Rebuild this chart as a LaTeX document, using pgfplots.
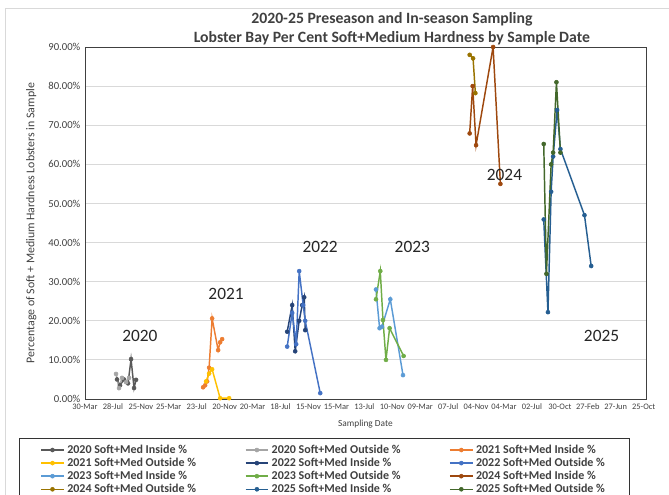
\documentclass[border=0pt]{standalone}
\usepackage{fontspec}
\setmainfont{Carlito}
\usepackage{pgfplots}
\pgfplotsset{compat=1.18}

\definecolor{c20i}{HTML}{595959}
\definecolor{c20o}{HTML}{A5A5A5}
\definecolor{c21i}{HTML}{ED7D31}
\definecolor{c21o}{HTML}{FFC000}
\definecolor{c22i}{HTML}{264478}
\definecolor{c22o}{HTML}{4472C4}
\definecolor{c23i}{HTML}{5B9BD5}
\definecolor{c23o}{HTML}{70AD47}
\definecolor{c24i}{HTML}{9E480E}
\definecolor{c24o}{HTML}{997300}
\definecolor{c25i}{HTML}{255E91}
\definecolor{c25o}{HTML}{43682B}
\definecolor{txt}{HTML}{404040}
\definecolor{gridc}{HTML}{D9D9D9}

\begin{document}
\begin{tikzpicture}
\begin{axis}[
    name=ax,
    scale only axis,
    width=420.75pt, height=264pt,
    xmin=0, xmax=2410, ymin=0, ymax=90,
    axis line style={draw=black!75, line width=0.6pt},
    tick style={draw=none},
    ymajorgrids, major grid style={gridc, line width=0.6pt},
    ytick={0,10,...,90},
    yticklabel={\pgfmathprintnumber[fixed,fixed zerofill,precision=2]{\tick}\%},
    /pgf/number format/assume math mode=true,
    yticklabel style={font=\fontsize{8}{9}\selectfont, text=txt},
    xtick={0,120,...,2400},
    xticklabels={30-Mar,28-Jul,25-Nov,25-Mar,23-Jul,20-Nov,20-Mar,18-Jul,15-Nov,15-Mar,13-Jul,10-Nov,09-Mar,07-Jul,04-Nov,04-Mar,02-Jul,30-Oct,27-Feb,27-Jun,25-Oct},
    xticklabel style={font=\fontsize{6.3}{7}\selectfont, text=txt, inner xsep=0pt},
    xlabel={Sampling Date},
    xlabel style={font=\fontsize{7}{8}\selectfont, text=txt, yshift=-1pt},
    ylabel={Percentage of Soft + Medium Hardness Lobsters in Sample},
    ylabel style={font=\fontsize{8.9}{9}\selectfont, text=txt, yshift=2pt},
    title={2020-25 Preseason and In-season Sampling\\Lobster Bay Per Cent Soft+Medium Hardness by Sample Date},
    title style={align=center, font=\bfseries\fontsize{11.8}{14.2}\selectfont, text=txt,
        at={(0.547,1)}, anchor=south, yshift=-8pt},
    every axis plot/.append style={line width=1.1pt, mark=*, mark size=1.5pt,
        mark options={line width=0.4pt}},
    legend columns=3,
    legend cell align=left,
    legend style={at={(0.426,-0.112)}, anchor=north, draw=black!80, line width=0.6pt,
        font=\bfseries\fontsize{9}{10}\selectfont, text=txt,
        row sep=-2pt, inner xsep=16pt, inner ysep=2.5pt,
        /tikz/every even column/.append style={column sep=34.5pt}},
]
% 2020
\addplot[c20i] coordinates {(137.6,5) (150.5,3.5) (167.7,5) (184.9,4) (197.8,10.2) (210.7,2.8) (219.3,4.9)};
\addplot[c20o] coordinates {(133.3,6.4) (146.2,2.8) (159.1,5.4) (176.3,4.3) (189.2,5.4)};
% 2021
\addplot[c21i] coordinates {(507.4,3) (516,3.5) (524.6,4.5) (533.2,8) (546.1,20.6) (571.9,12.5) (580.5,14.5) (589.1,15.3)};
\addplot[c21o] coordinates {(520.3,4.5) (533.2,6.5) (546.1,7.6) (580.5,0.2) (619.2,0.2)};
% 2022
\addplot[c22i] coordinates {(868.6,17.2) (890.1,24) (903,12.2) (920.2,20) (933.1,24) (941.7,26) (946,17.6)};
\addplot[c22o] coordinates {(868.6,13.4) (890.1,22) (907.3,14) (920.2,32.7) (937.4,24) (946,20) (1010.5,1.5)};
% 2023
\addplot[c23i] coordinates {(1250,28) (1265.5,18.1) (1275.8,18.5) (1311.5,25.5) (1366.1,6.1)};
\addplot[c23o] coordinates {(1250,25.5) (1268.5,32.7) (1280.1,20.2) (1293,10) (1308.5,18.1) (1368.7,11)};
% 2024
\addplot[c24i] coordinates {(1652.5,67.9) (1665.4,80) (1680,64.9) (1753.1,90) (1784.5,55)};
\addplot[c24o] coordinates {(1652.5,88) (1667.1,87.1) (1677,78.2)};
% 2025
\addplot[c25i] coordinates {(1970.7,45.9) (1988.8,22.2) (2002.5,53) (2011.1,62) (2028.3,73.9) (2042.5,63.9) (2145.7,47) (2174.5,34)};
\addplot[c25o] coordinates {(1970.7,65.2) (1982.3,32) (2002.5,60) (2011.1,63) (2025.3,81) (2042.5,63)};
\legend{2020 Soft+Med Inside \%, 2020 Soft+Med Outside \%, 2021 Soft+Med Inside \%,
        2021 Soft+Med Outside \%, 2022 Soft+Med Inside \%, 2022 Soft+Med Outside \%,
        2023 Soft+Med Inside \%, 2023 Soft+Med Outside \%, 2024 Soft+Med Inside \%,
        2024 Soft+Med Outside \%, 2025 Soft+Med Inside \%, 2025 Soft+Med Outside \%}
\node[font=\fontsize{13}{14}\selectfont, text=black!85] at (axis cs:236,16.1) {2020};
\node[font=\fontsize{13}{14}\selectfont, text=black!85] at (axis cs:606,26.8) {2021};
\node[font=\fontsize{13}{14}\selectfont, text=black!85] at (axis cs:1010,38.9) {2022};
\node[font=\fontsize{13}{14}\selectfont, text=black!85] at (axis cs:1406,38.9) {2023};
\node[font=\fontsize{13}{14}\selectfont, text=black!85] at (axis cs:1802,57.3) {2024};
\node[font=\fontsize{13}{14}\selectfont, text=black!85] at (axis cs:2219,16.1) {2025};
\end{axis}
\draw[gridc, line width=0.6pt] ([shift={(-60pt,-90pt)}]ax.south west) rectangle ([shift={(460pt,293pt)}]ax.south west);
\pgfresetboundingbox
\useasboundingbox ([shift={(-63.75pt,-72pt)}]ax.south west) rectangle ([shift={(438pt,299.25pt)}]ax.south west);
\end{tikzpicture}
\end{document}
